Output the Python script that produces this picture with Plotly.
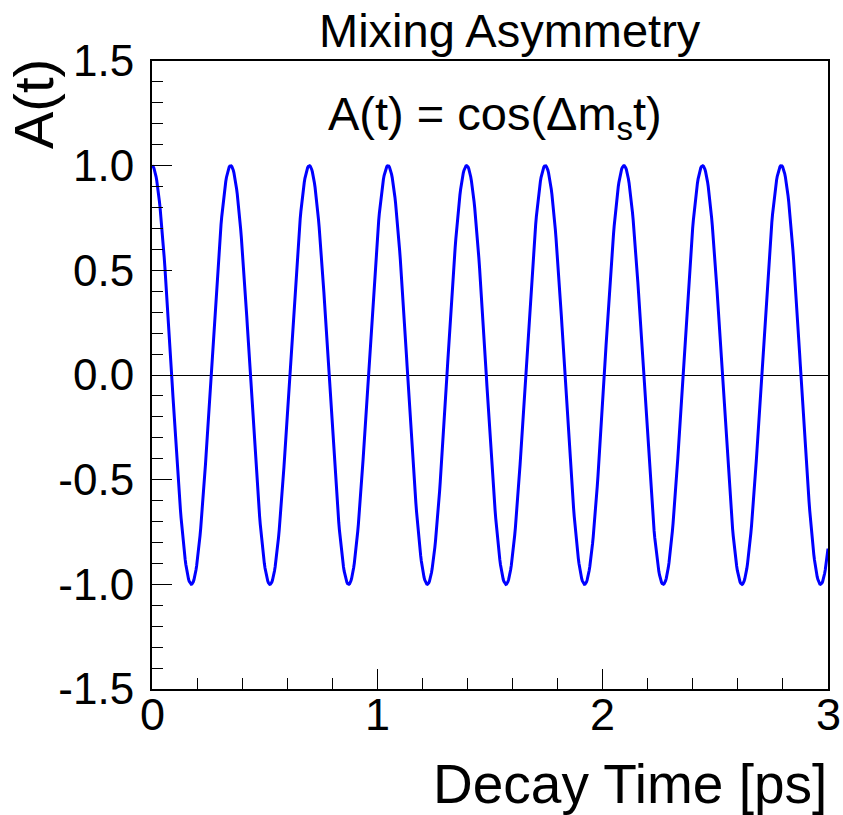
import numpy as np
import plotly.graph_objects as go

# ---- data ----
title_text = "Mixing Asymmetry"
formula_text = "A(t) = cos(Δm<sub>s</sub>t)"
x_title = "Decay Time [ps]"
y_title = "A(t)"
dm_s = 18.0            # oscillation frequency [1/ps]
t_range = [0.0, 3.0]
a_range = [-1.5, 1.5]
n_points = 1000
x_tickvals = [0, 1, 2, 3]
x_ticktext = ["0", "1", "2", "3"]
y_tickvals = [-1.5, -1.0, -0.5, 0.0, 0.5, 1.0, 1.5]
y_ticktext = ["-1.5", "-1.0", "-0.5", "0.0", "0.5", "1.0", "1.5"]

t = np.linspace(t_range[0], t_range[1], n_points)
a = np.cos(dm_s * t)

FONT = "Liberation Sans, Arial, Helvetica, sans-serif"

fig = go.Figure()
fig.add_trace(go.Scatter(x=t, y=a, mode="lines",
                         line=dict(color="#0000ff", width=3),
                         hoverinfo="skip", showlegend=False))

W, H = 843, 815
L, R, T, B = 152, 15, 61, 126

fig.update_layout(
    width=W, height=H,
    margin=dict(l=L, r=R, t=T, b=B, pad=0),
    paper_bgcolor="white", plot_bgcolor="white",
    font=dict(family=FONT, color="black", size=44),
    showlegend=False,
)

fig.update_xaxes(
    range=t_range, showgrid=False, zeroline=False,
    showline=True, linecolor="black", linewidth=2, mirror=True,
    ticks="inside", ticklen=20, tickwidth=1, tickcolor="black",
    tickvals=x_tickvals, ticktext=x_ticktext, showticklabels=False,
    minor=dict(dtick=0.2, ticks="inside", ticklen=11, tickwidth=1, tickcolor="black", showgrid=False),
)
fig.update_yaxes(
    range=a_range, showgrid=False,
    zeroline=True, zerolinecolor="black", zerolinewidth=1,
    showline=True, linecolor="black", linewidth=2, mirror=True,
    ticks="inside", ticklen=20, tickwidth=1, tickcolor="black",
    tickvals=y_tickvals, ticktext=y_ticktext,
    tickfont=dict(size=44, family=FONT),
    minor=dict(dtick=0.1, ticks="inside", ticklen=11, tickwidth=1, tickcolor="black", showgrid=False),
    ticklabelstandoff=7,
)

pw, ph = W - L - R, H - T - B

def px_x(x):
    return (x - L) / pw

def px_y(y):
    return (H - B - y) / ph

# x tick labels placed through the x axis scale
for v, txt in zip(x_tickvals, x_ticktext):
    fig.add_annotation(text=txt, x=v, y=px_y(714), xref="x", yref="paper",
                       xanchor="center", yanchor="middle", showarrow=False,
                       font=dict(size=45, family=FONT, color="black"))

fig.add_annotation(text=title_text, x=px_x(510), y=px_y(30), xref="paper", yref="paper",
                   xanchor="center", yanchor="middle", showarrow=False,
                   font=dict(size=47, family=FONT, color="black"))
fig.add_annotation(text=formula_text, x=px_x(495), y=px_y(117), xref="paper", yref="paper",
                   xanchor="center", yanchor="middle", showarrow=False,
                   font=dict(size=47, family=FONT, color="black"))
fig.add_annotation(text=x_title, x=px_x(829), y=px_y(784), xref="paper", yref="paper",
                   xanchor="right", yanchor="middle", showarrow=False,
                   font=dict(size=55, family=FONT, color="black"))
fig.add_annotation(text=y_title, x=px_x(33), y=px_y(57), xref="paper", yref="paper",
                   xanchor="center", yanchor="top", showarrow=False, textangle=-90,
                   font=dict(size=56, family=FONT, color="black"))

fig.write_html("out.html", config={"displayModeBar": False},
               post_script="document.body.style.margin='0px';")
